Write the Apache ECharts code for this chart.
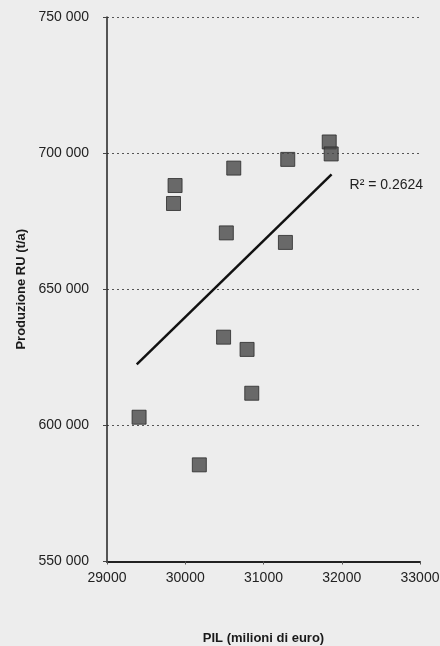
<!DOCTYPE html>
<html>
<head>
<meta charset="utf-8">
<script src="https://cdn.jsdelivr.net/npm/echarts@6/dist/echarts.min.js"></script>
<style>
html,body{margin:0;padding:0;background:#ededed;}
#c{width:440px;height:646px;}
</style>
</head>
<body>
<div id="c"></div>
<script>
// PIL (milioni di euro)
const pil = [29410, 30180, 29870, 29850, 30620, 30525, 30490, 30790, 30850, 31310, 31280, 31840, 31865];
// Produzione RU (t/a)
const produzione = [603000, 585500, 688100, 681500, 694500, 670700, 632400, 627900, 611800, 697700, 667200, 704100, 699700];
// Trend line end points
const trendX = [29380, 31870];
const trendY = [622400, 692200];
const r2Label = 'R² = 0.2624';
const xName = 'PIL (milioni di euro)';
const yName = 'Produzione RU (t/a)';

const points = pil.map((x, i) => [x, produzione[i]]);
const trend = trendX.map((x, i) => [x, trendY[i]]);

const chart = echarts.init(document.getElementById('c'));
chart.setOption({
  backgroundColor: '#ededed',
  animation: false,
  textStyle: { fontFamily: 'Liberation Sans, Arial, sans-serif' },
  grid: { left: 107, right: 20, top: 17, bottom: 84.5, containLabel: false, outerBoundsMode: 'none' },
  xAxis: {
    type: 'value', min: 29000, max: 33000, interval: 1000,
    name: xName, nameLocation: 'middle', nameGap: 70,
    nameTextStyle: { fontSize: 13, fontWeight: 'bold', color: '#1a1a1a' },
    axisLine: { lineStyle: { color: '#222', width: 2 } },
    axisTick: { show: true, length: 3, lineStyle: { color: '#555' } },
    axisLabel: { fontSize: 14, color: '#222', margin: 10, formatter: v => String(v) },
    splitLine: { show: false }
  },
  yAxis: {
    type: 'value', min: 550000, max: 750000, interval: 50000,
    name: yName, nameLocation: 'middle', nameGap: 78, nameRotate: 90,
    nameTextStyle: { fontSize: 13, fontWeight: 'bold', color: '#1a1a1a' },
    axisLine: { show: true, lineStyle: { color: '#222', width: 1.5 } },
    axisTick: { show: true, length: 4, lineStyle: { color: '#444' } },
    axisLabel: {
      fontSize: 14, color: '#222', margin: 18,
      formatter: v => String(v).replace(/\B(?=(\d{3})+(?!\d))/g, ' ')
    },
    splitLine: { show: true, lineStyle: { color: '#555', type: [2, 3], width: 1 } }
  },
  series: [
    {
      type: 'scatter', data: points, symbol: 'rect', symbolSize: 14,
      itemStyle: { color: '#474747', borderColor: '#2b2b2b', borderWidth: 1 },
      z: 3
    },
    {
      type: 'line', data: trend, symbol: 'none', silent: true,
      lineStyle: { color: '#111', width: 2.5 },
      label: { show: false },
      endLabel: {
        show: true, formatter: r2Label, fontSize: 14, color: '#222',
        offset: [10, 11]
      },
      z: 2
    }
  ]
});
</script>
</body>
</html>
